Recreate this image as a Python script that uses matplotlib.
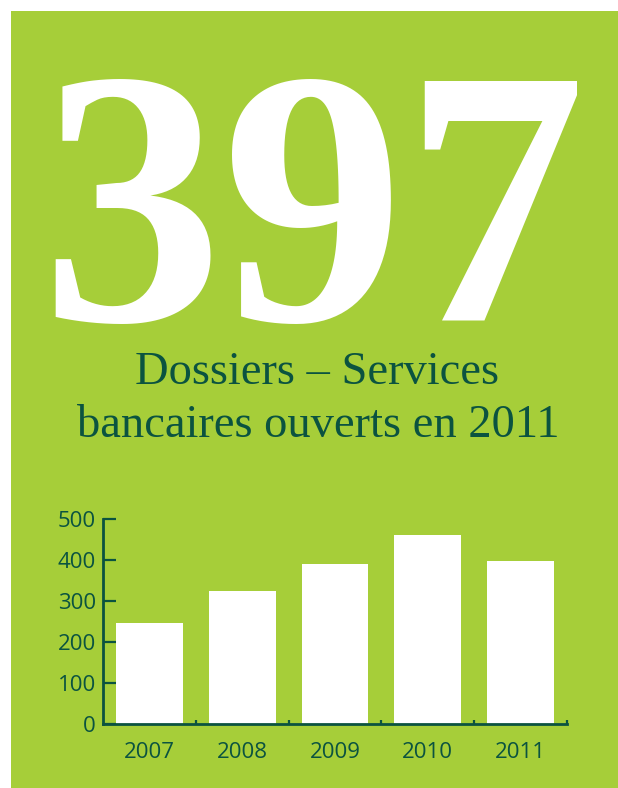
import numpy as np
import matplotlib.pyplot as plt
from matplotlib.patches import Rectangle

# dossiers ouverts par annee
years = ['2007', '2008', '2009', '2010', '2011']
dossiers = [246, 324, 390, 461, 397]
total_2011 = '397'
subtitle = ['Dossiers \u2013 Services', 'bancaires ouverts en 2011']

green = '#a6ce39'
dark = '#0b5340'

W, H = 618, 788
fig = plt.figure(figsize=(W / 100, H / 100), dpi=100)
fig.patch.set_facecolor('white')

# green panel
fig.patches.append(Rectangle((11 / W, 0), 1, 1 - 11 / H, transform=fig.transFigure,
                             facecolor=green, edgecolor='none', zorder=-1))

fig.text(313.5 / W, 1 - 320 / H, total_2011, color='white', fontsize=262,
         fontfamily='Liberation Serif', fontweight='bold', ha='center', va='baseline')
fig.text(317 / W, 1 - 384 / H, subtitle[0], color=dark, fontsize=33.5,
         fontfamily='Liberation Serif', ha='center', va='baseline')
fig.text(318 / W, 1 - 437 / H, subtitle[1], color=dark, fontsize=33.5,
         fontfamily='Liberation Serif', ha='center', va='baseline')

ax = fig.add_axes([103 / W, 1 - 724 / H, (567 - 103) / W, (724 - 519) / H])
ax.set_zorder(2)
ax.set_facecolor('none')
x = np.arange(len(years))
ax.bar(x, dossiers, width=0.72, color='white', zorder=2)
ax.set_xlim(-0.5, len(years) - 0.5)
ax.set_ylim(0, 500)
ax.set_yticks(range(0, 501, 100))
ax.set_xticks(x)
ax.set_xticklabels(years)
ax.set_xticks(list(x[:-1] + 0.5) + [len(years) - 0.5], minor=True)

for s in ['top', 'right']:
    ax.spines[s].set_visible(False)
for s in ['left', 'bottom']:
    ax.spines[s].set_color(dark)
    ax.spines[s].set_linewidth(2)
    ax.spines[s].set_zorder(3)

ax.tick_params(axis='y', direction='in', length=9, width=1.6, color=dark,
               labelcolor=dark, labelsize=16, pad=5)
ax.tick_params(axis='x', which='major', length=0, labelcolor=dark,
               labelsize=16, pad=13)
ax.tick_params(axis='x', which='minor', direction='in', length=3, width=1.6, color=dark)
for lab in ax.get_xticklabels() + ax.get_yticklabels():
    lab.set_fontfamily('Open Sans')

fig.savefig('out.png', dpi=100, facecolor=fig.get_facecolor())
